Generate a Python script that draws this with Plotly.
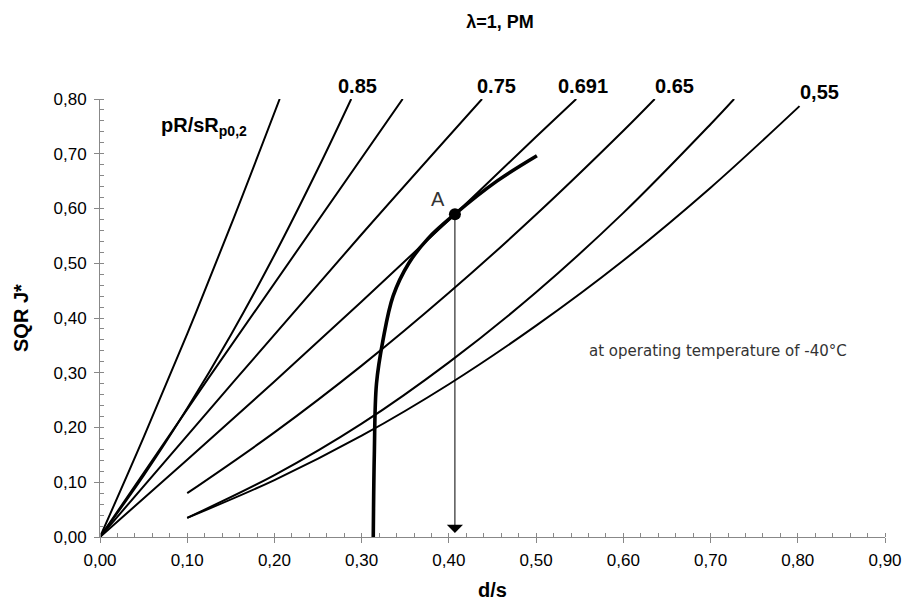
import plotly.graph_objects as go

# d/s tick values on the horizontal axis and SQR J* ticks on the vertical axis
ds_ticks = [0.0, 0.1, 0.2, 0.3, 0.4, 0.5, 0.6, 0.7, 0.8, 0.9]
sqrj_ticks = [0.0, 0.1, 0.2, 0.3, 0.4, 0.5, 0.6, 0.7, 0.8]

# pR/sRp0,2 curves: (d/s, SQR J*) pairs
c1_ds = [0.0, 0.05, 0.10, 0.15, 0.206]
c1_j = [0.0, 0.182, 0.371, 0.569, 0.800]

c085_ds = [0.0, 0.05, 0.10, 0.15, 0.20, 0.25, 0.288]
c085_j = [0.0, 0.112, 0.235, 0.369, 0.515, 0.673, 0.800]

c3_ds = [0.0, 0.123, 0.347]
c3_j = [0.0, 0.287, 0.800]

c075_ds = [0.0, 0.155, 0.300, 0.438]
c075_j = [0.0, 0.287, 0.553, 0.800]

c0691_ds = [0.0, 0.1, 0.2, 0.3, 0.4, 0.5, 0.546]
c0691_j = [0.0, 0.141, 0.284, 0.430, 0.579, 0.731, 0.800]

c065_ds = [0.1, 0.2, 0.3, 0.4, 0.5, 0.6, 0.636]
c065_j = [0.080, 0.191, 0.313, 0.446, 0.589, 0.742, 0.800]

c7_ds = [0.1, 0.2, 0.3, 0.4, 0.5, 0.6, 0.7, 0.727]
c7_j = [0.035, 0.113, 0.207, 0.319, 0.447, 0.592, 0.754, 0.800]

c055_ds = [0.1, 0.2, 0.3, 0.4, 0.5, 0.6, 0.7, 0.802]
c055_j = [0.035, 0.104, 0.185, 0.279, 0.386, 0.505, 0.638, 0.787]

# limit curve (thick)
lim_ds = [0.3133, 0.3145, 0.3170, 0.3245, 0.3360, 0.3540, 0.3760, 0.4069, 0.4550, 0.5009]
lim_j = [0.000, 0.150, 0.280, 0.360, 0.440, 0.500, 0.545, 0.5897, 0.650, 0.6964]

# operating point A
a_ds = 0.4069
a_j = 0.5897

# curve labels above the plot: (d/s position, text)
label_ds = [0.295, 0.455, 0.554, 0.659, 0.825]
label_txt = ["0.85", "0.75", "0.691", "0.65", "0,55"]

curves = [
    (c1_ds, c1_j), (c085_ds, c085_j), (c3_ds, c3_j), (c075_ds, c075_j),
    (c0691_ds, c0691_j), (c065_ds, c065_j), (c7_ds, c7_j), (c055_ds, c055_j),
]

fig = go.Figure()
for xs, ys in curves:
    fig.add_trace(go.Scatter(
        x=xs, y=ys, mode="lines",
        line=dict(color="black", width=2, shape="spline", smoothing=1.0),
        hoverinfo="skip", showlegend=False,
    ))

fig.add_trace(go.Scatter(
    x=lim_ds, y=lim_j, mode="lines",
    line=dict(color="black", width=3.6, shape="spline", smoothing=1.0),
    hoverinfo="skip", showlegend=False,
))

fig.add_trace(go.Scatter(
    x=[a_ds], y=[a_j], mode="markers",
    marker=dict(color="black", size=12),
    hoverinfo="skip", showlegend=False,
))

FONT = "Liberation Sans, Arial, sans-serif"

annotations = [
    # arrow from A down to the d/s axis
    dict(x=a_ds, y=0.0075, ax=a_ds, ay=a_j, xref="x", yref="y",
         axref="x", ayref="y", text="", showarrow=True, arrowhead=1,
         arrowsize=2.7, arrowwidth=1, arrowcolor="black", standoff=0, startstandoff=0),
    dict(x=0.388, y=0.6172, xref="x", yref="y", text="A", showarrow=False,
         font=dict(family=FONT, size=20, color="#333333")),
    dict(x=0.068, y=0.7494, xref="x", yref="y", xanchor="left",
         text="<b>pR/sR<sub>p0,2</sub></b>", showarrow=False,
         font=dict(family=FONT, size=20, color="black")),
    dict(x=0.5587, y=0.3397, xref="x", yref="y", xanchor="left",
         text="at operating temperature of -40°C", showarrow=False,
         font=dict(family="DejaVu Sans, sans-serif", size=15, color="#333333")),
    # axis titles
    dict(x=0, y=0.5, xref="paper", yref="paper", xanchor="center", yanchor="middle",
         xshift=-79, text="<b>SQR J*</b>", textangle=-90, showarrow=False,
         font=dict(family=FONT, size=20, color="black")),
    dict(x=0.5, y=0, xref="paper", yref="paper", xanchor="center", yanchor="middle",
         yshift=-53, text="<b>d/s</b>", showarrow=False,
         font=dict(family=FONT, size=20, color="black")),
]

for xd, txt in zip(label_ds, label_txt):
    yp = 1.0171 if "," in txt else 1.0308
    annotations.append(dict(
        x=xd, y=yp, xref="x", yref="paper", xanchor="center", yanchor="middle",
        text=f"<b>{txt}</b>", showarrow=False,
        font=dict(family=FONT, size=20, color="black"),
    ))

axis_common = dict(
    showline=True, linecolor="#888888", linewidth=1,
    ticks="outside", ticklen=5, tickcolor="#888888", tickwidth=1,
    showgrid=False, zeroline=False, tickformat=".2f",
    tickfont=dict(family=FONT, size=17, color="black"),
    minor=dict(ticks="inside", ticklen=4, tickcolor="#888888", dtick=0.02, showgrid=False),
)

fig.update_layout(
    width=914, height=608,
    margin=dict(l=100, r=19, t=99, b=71),
    paper_bgcolor="white", plot_bgcolor="white",
    separators=", ",
    title=dict(text="<b>λ=1, PM</b>", x=0.547, xanchor="center", y=1 - 22 / 608,
               yanchor="middle", font=dict(family=FONT, size=18, color="black")),
    xaxis=dict(range=[0, 0.9], tickvals=ds_ticks, ticklabelstandoff=3, **axis_common),
    yaxis=dict(range=[0, 0.8], tickvals=sqrj_ticks, ticklabelstandoff=4, **axis_common),
    annotations=annotations,
    showlegend=False,
)

fig.write_html("out.html")
